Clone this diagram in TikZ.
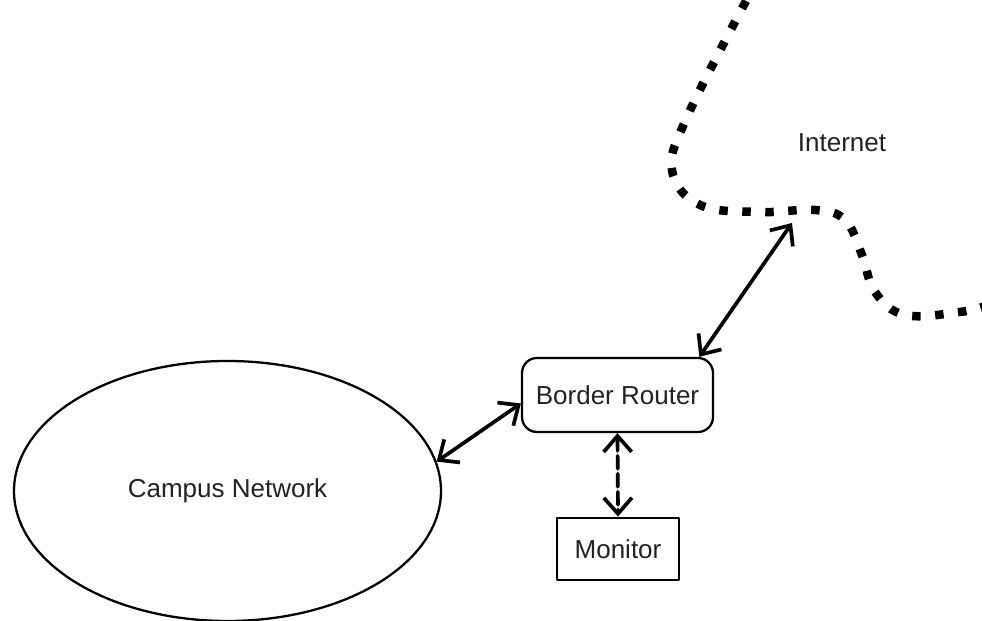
\documentclass[tikz,border=0pt]{standalone}
\usepackage{fontspec}
\setmainfont{Liberation Sans}
\usetikzlibrary{shapes.geometric,arrows.meta}

\definecolor{labelgray}{RGB}{34,34,34}

\tikzset{
    netlabel/.style={text=labelgray,font=\fontsize{14.8}{17}\selectfont},
    link/.style={line width=2.1pt,{Straight Barb[length=3.2mm,width=5.6mm]}-{Straight Barb[length=3.2mm,width=5.6mm]}},
}

\begin{document}
\begin{tikzpicture}[x=1cm,y=1cm,line cap=round,line join=round]
        \useasboundingbox (0,0) rectangle (19.64,12.42);

        % Red interna, router y monitor
        \node[netlabel,draw,ellipse,line width=1.3pt,inner sep=0pt,
              minimum width=8.54cm,minimum height=5.20cm] (campus) at (4.55,2.60) {Campus Network};
        \node[netlabel,draw,rounded corners=0.30cm,line width=1.3pt,
              minimum width=3.82cm,minimum height=1.48cm] (router) at (12.35,4.52) {Border Router};
        \node[netlabel,draw,line width=1.6pt,
              minimum width=2.44cm,minimum height=1.24cm] (monitor) at (12.36,1.44) {Monitor};

        % Frontera con Internet
        \draw[line width=0.17cm,line cap=butt,dash pattern=on 0.17cm off 0.29cm]
            plot[smooth,tension=0.65] coordinates {(14.92,12.40) (13.74,10.08) (13.44,9.02) (14.00,8.32)
                (15.20,8.18) (16.30,8.22) (16.90,8.02) (17.24,7.32) (17.50,6.58) (18.10,6.12)
                (19.20,6.18) (19.70,6.30)};
        \node[netlabel] (internet) at (16.84,9.56) {Internet};
        \coordinate (edge) at (15.84,7.96);

        % Enlaces
        \draw[link] (campus.8) -- (router.185);
        \draw[link] (router.25) -- (edge);
        \draw[link,dash pattern=on 0.26cm off 0.10cm] (router.south) -- (monitor.north);

    \end{tikzpicture}
\end{document}
